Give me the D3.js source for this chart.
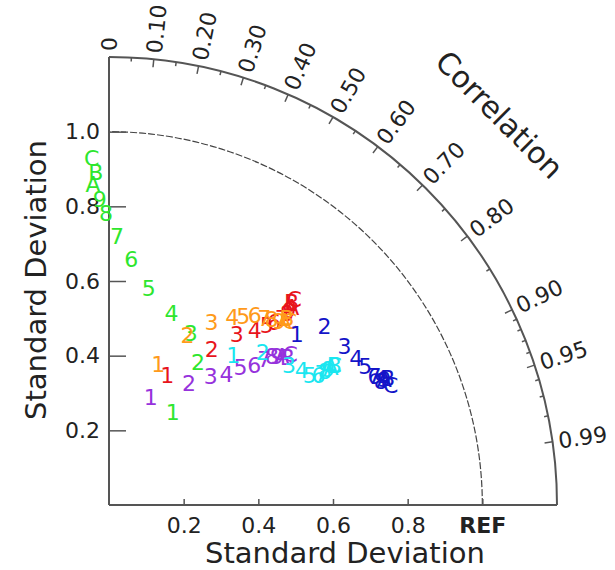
<!DOCTYPE html>
<html>
<head>
<meta charset="utf-8">
<script src="https://cdn.jsdelivr.net/npm/d3@7"></script>
<style>
  body { margin: 0; background: #fff; }
  text { font-family: "DejaVu Sans", sans-serif; }
</style>
</head>
<body>
<div id="svg-area"></div>
<script>
var svgWidth = 615;
var svgHeight = 570;

// run labels used as markers
var runLabels = ["1", "2", "3", "4", "5", "6", "7", "8", "9", "A", "B", "C"];

// normalised standard deviation and correlation of each series
var greenStd = [0.30, 0.45, 0.51, 0.54, 0.59, 0.66, 0.72, 0.78, 0.82, 0.86, 0.89, 0.93];
var greenCorr = [0.57, 0.53, 0.43, 0.31, 0.18, 0.09, 0.03, -0.01, -0.03, -0.05, -0.04, -0.05];

var orangeStd = [0.40, 0.50, 0.56, 0.60, 0.62, 0.64, 0.65, 0.66, 0.67, 0.68, 0.69, 0.69];
var orangeCorr = [0.33, 0.42, 0.49, 0.55, 0.58, 0.61, 0.64, 0.66, 0.68, 0.69, 0.69, 0.70];

var redStd = [0.38, 0.50, 0.57, 0.61, 0.64, 0.66, 0.68, 0.70, 0.71, 0.72, 0.73, 0.74];
var redCorr = [0.41, 0.55, 0.60, 0.64, 0.66, 0.67, 0.68, 0.68, 0.68, 0.68, 0.67, 0.67];

var purpleStd = [0.31, 0.39, 0.44, 0.47, 0.51, 0.54, 0.57, 0.59, 0.60, 0.61, 0.62, 0.63];
var purpleCorr = [0.36, 0.55, 0.62, 0.67, 0.69, 0.72, 0.73, 0.74, 0.75, 0.76, 0.77, 0.77];

var cyanStd = [0.52, 0.58, 0.61, 0.63, 0.64, 0.66, 0.67, 0.68, 0.69, 0.70, 0.71, 0.71];
var cyanCorr = [0.64, 0.71, 0.79, 0.82, 0.84, 0.85, 0.85, 0.85, 0.85, 0.85, 0.85, 0.85];

var blueStd = [0.68, 0.75, 0.76, 0.77, 0.78, 0.79, 0.79, 0.80, 0.81, 0.81, 0.82, 0.82];
var blueCorr = [0.74, 0.77, 0.83, 0.86, 0.88, 0.90, 0.90, 0.91, 0.91, 0.91, 0.91, 0.92];

// axis ticks
var stdMajor = [0.2, 0.4, 0.6, 0.8, 1.0];
var stdMinor = [0.1, 0.3, 0.5, 0.7, 0.9, 1.1];
var corrMajor = [0, 0.1, 0.2, 0.3, 0.4, 0.5, 0.6, 0.7, 0.8, 0.9, 0.95, 0.99];
var corrLabels = ["0", "0.10", "0.20", "0.30", "0.40", "0.50", "0.60", "0.70", "0.80", "0.90", "0.95", "0.99"];
var corrMinor = [0.05, 0.15, 0.25, 0.35, 0.45, 0.55, 0.65, 0.75, 0.85, 0.91, 0.92, 0.93, 0.94, 0.96, 0.97, 0.98];

// drawing order: later ones sit on top
var series = [
  { std: greenStd, corr: greenCorr, color: "#2ee62e" },
  { std: redStd, corr: redCorr, color: "#e8141c" },
  { std: orangeStd, corr: orangeCorr, color: "#ff9a1a" },
  { std: purpleStd, corr: purpleCorr, color: "#9632dc" },
  { std: cyanStd, corr: cyanCorr, color: "#1ae6f0" },
  { std: blueStd, corr: blueCorr, color: "#1414c8" }
];

var svg = d3.select("#svg-area")
  .append("svg")
  .attr("width", svgWidth)
  .attr("height", svgHeight);

var x0 = 109, y0 = 505, maxStd = 1.2;

var xScale = d3.scaleLinear().domain([0, maxStd]).range([x0, x0 + 448]);
var yScale = d3.scaleLinear().domain([0, maxStd]).range([y0, y0 - 448]);
var R = xScale(maxStd) - x0;
var frameColor = "#555";

// polar helpers
function px(s, c) { return xScale(s * c); }
function py(s, c) { return yScale(s * Math.sqrt(1 - c * c)); }

// reference arc (dashed)
var refPath = d3.path();
var rRef = xScale(1) - x0;
refPath.moveTo(x0 + rRef, y0);
refPath.arc(x0, y0, rRef, 0, -Math.PI / 2, true);
svg.append("path")
  .attr("d", refPath.toString())
  .attr("fill", "none")
  .attr("stroke", "#444")
  .attr("stroke-width", 1.2)
  .attr("stroke-dasharray", "7,2");

// outer arc
var outer = d3.path();
outer.moveTo(x0 + R, y0);
outer.arc(x0, y0, R, 0, -Math.PI / 2, true);
svg.append("path")
  .attr("d", outer.toString())
  .attr("fill", "none")
  .attr("stroke", frameColor)
  .attr("stroke-width", 2);

// x axis
var xAxisG = svg.append("g").attr("transform", "translate(0," + y0 + ")");
xAxisG.call(d3.axisBottom(xScale).tickValues(stdMinor).tickSizeInner(-3).tickSizeOuter(0).tickFormat(""));
xAxisG.call(d3.axisBottom(xScale).tickValues(stdMajor).tickSizeInner(-6).tickSizeOuter(0).tickPadding(12)
  .tickFormat(d => d === 1 ? "REF" : d3.format(".1f")(d)));
xAxisG.selectAll(".domain").remove();
xAxisG.selectAll("line").attr("stroke", frameColor).attr("stroke-width", 1.5);
xAxisG.selectAll("text")
  .attr("font-size", 22)
  .attr("fill", "#222")
  .attr("font-weight", d => d === 1 ? "bold" : "normal");

// y axis
var yAxisG = svg.append("g").attr("transform", "translate(" + x0 + ",0)");
yAxisG.call(d3.axisLeft(yScale).tickValues(stdMinor).tickSizeInner(-9).tickSizeOuter(0).tickFormat(""));
yAxisG.call(d3.axisLeft(yScale).tickValues(stdMajor).tickSizeInner(-17).tickSizeOuter(0).tickPadding(9)
  .tickFormat(d3.format(".1f")));
yAxisG.selectAll(".domain").remove();
yAxisG.selectAll("line").attr("stroke", frameColor).attr("stroke-width", 1.5);
yAxisG.selectAll("text").attr("font-size", 22).attr("fill", "#222");

// axis lines
svg.append("line")
  .attr("x1", x0).attr("y1", y0).attr("x2", xScale(maxStd)).attr("y2", y0)
  .attr("stroke", frameColor).attr("stroke-width", 2);
svg.append("line")
  .attr("x1", x0).attr("y1", y0).attr("x2", x0).attr("y2", yScale(maxStd))
  .attr("stroke", frameColor).attr("stroke-width", 2);

// correlation ticks on outer arc
function corrTick(values, len) {
  svg.append("g").selectAll("line")
    .data(values)
    .join("line")
    .attr("x1", c => px(maxStd, c))
    .attr("y1", c => py(maxStd, c))
    .attr("x2", c => x0 + (R - len) * c)
    .attr("y2", c => y0 - (R - len) * Math.sqrt(1 - c * c))
    .attr("stroke", frameColor)
    .attr("stroke-width", 1.5);
}
corrTick(corrMinor, 4);
corrTick(corrMajor, 8);

// correlation labels
svg.append("g").selectAll("text")
  .data(corrMajor)
  .join("text")
  .attr("transform", function(c, i) {
    var a = Math.acos(c);
    var x = x0 + (R + 6) * Math.cos(a);
    var y = y0 - (R + 6) * Math.sin(a);
    return "translate(" + x + "," + y + ") rotate(" + (-a * 180 / Math.PI) + ")";
  })
  .attr("text-anchor", "start")
  .attr("dominant-baseline", "central")
  .attr("font-size", 22)
  .attr("fill", "#222")
  .text((c, i) => corrLabels[i]);

// correlation title
var ta = Math.PI / 4, tr = 552;
svg.append("text")
  .attr("transform", "translate(" + (x0 + tr * Math.cos(ta)) + "," + (y0 - tr * Math.sin(ta)) + ") rotate(45)")
  .attr("text-anchor", "middle")
  .attr("dominant-baseline", "central")
  .attr("font-size", 30)
  .attr("fill", "#222")
  .text("Correlation");

// axis titles
svg.append("text")
  .attr("x", 345)
  .attr("y", 563)
  .attr("text-anchor", "middle")
  .attr("font-size", 29)
  .attr("fill", "#222")
  .text("Standard Deviation");

svg.append("text")
  .attr("transform", "translate(46,280) rotate(-90)")
  .attr("text-anchor", "middle")
  .attr("font-size", 29)
  .attr("fill", "#222")
  .text("Standard Deviation");

// run markers
series.forEach(function(s) {
  svg.append("g").selectAll("text")
    .data(s.std)
    .join("text")
    .attr("x", (d, i) => px(d, s.corr[i]))
    .attr("y", (d, i) => py(d, s.corr[i]))
    .attr("text-anchor", "middle")
    .attr("dominant-baseline", "central")
    .attr("font-size", 22)
    .attr("fill", s.color)
    .text((d, i) => runLabels[i]);
});
</script>
</body>
</html>
